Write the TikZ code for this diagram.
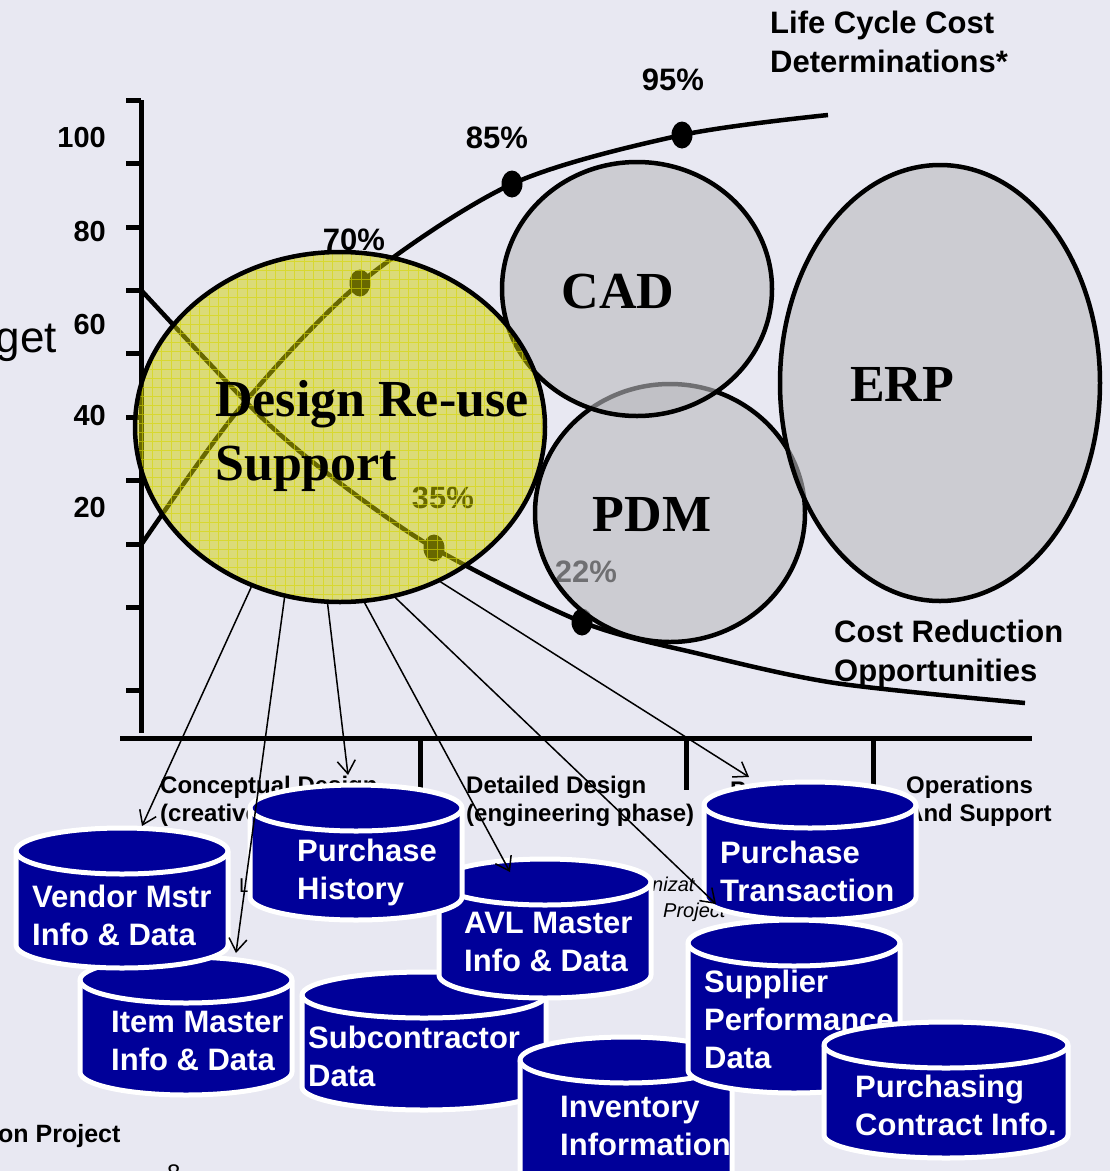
\documentclass[tikz,border=0pt]{standalone}
\usepackage{fontspec}
\setmainfont{Liberation Sans}
\newfontfamily\timesf{Liberation Serif}
\usetikzlibrary{shapes.geometric, arrows.meta}
\definecolor{bgc}{RGB}{232,232,242}
\definecolor{dbblue}{RGB}{0,0,153}
\definecolor{yelc}{RGB}{208,208,0}
\definecolor{grayc}{RGB}{186,186,190}
\definecolor{gridc}{RGB}{214,214,0}
\newcommand\dbcyl[8]{%
  \path[dbfill] (#2-#5,#3+23) -- (#2-#5,#4-23)
     arc[start angle=180,end angle=360,x radius=#5pt,y radius=23pt]
     -- (#2+#5,#3+23)
     arc[start angle=0,end angle=180,x radius=#5pt,y radius=23pt] -- cycle;
  \node[dbtext] (#1) at (#6,#7) {#8};
  \draw[dbline] (#2-#5,#3+23) arc[start angle=180,end angle=360,x radius=#5pt,y radius=23pt];
}
\tikzset{
  axisln/.style={line width=5pt},
  crv/.style={line width=4.5pt},
  dotn/.style={ellipse, fill=black, minimum width=21pt, minimum height=27pt, inner sep=0pt},
  numlbl/.style={font=\fontsize{29}{34}\selectfont\bfseries, inner sep=0pt, anchor=east},
  pct/.style={font=\fontsize{31}{36}\selectfont\bfseries, inner sep=0pt},
  bigsans/.style={font=\fontsize{31}{38.5}\selectfont\bfseries, inner sep=0pt, align=left, anchor=north west},
  serifl/.style={font=\timesf\fontsize{52}{64}\selectfont\bfseries, inner sep=0pt},
  grayell/.style={ellipse, draw=black, line width=4.5pt, fill=grayc, fill opacity=0.6, inner sep=0pt},
  phase/.style={font=\fontsize{24}{28}\selectfont\bfseries, inner sep=0pt, align=left, anchor=north west},
  dbtext/.style={font=\fontsize{31}{38}\selectfont\bfseries, text=white, inner sep=0pt, align=left, anchor=north west},
  dbfill/.style={fill=dbblue, draw=white, line width=5pt, line join=round},
  dbline/.style={draw=white, line width=5pt},
  conn/.style={line width=1.5pt, -{Straight Barb[length=13pt,width=18pt]}},
  fragit/.style={font=\fontsize{20}{24}\selectfont\itshape, inner sep=0pt, anchor=base west},
  fragup/.style={font=\fontsize{20}{24}\selectfont, inner sep=0pt, anchor=base west},
}
\begin{document}
\begin{tikzpicture}[x=1pt, y=-1pt]
\useasboundingbox (0,0) rectangle (1110,1171);
\clip (0,0) rectangle (1110,1171);
\fill[bgc] (0,0) rectangle (1110,1171);

% ---- y axis
\draw[axisln] (141,100) -- (141,733);
\foreach \yy in {100,163,227,290,353,417,480,544,607,690}
  \draw[axisln] (126,\yy) -- (141,\yy);
\node[numlbl] (t100) at (106,138) {100};
\node[numlbl] (t80) at (106,232) {80};
\node[numlbl] (t60) at (106,325) {60};
\node[numlbl] (t40) at (106,416) {40};
\node[numlbl] (t20) at (106,508) {20};
\node[anchor=base east, font=\fontsize{44}{50}\selectfont, inner sep=0pt] (getl) at (57,352) {get};

% ---- curves
\coordinate (lcs) at (141,545);
\coordinate (lca) at (240,408);
\coordinate (p70) at (360,283);
\coordinate (p85) at (512,184);
\coordinate (p95) at (682,135);
\coordinate (lce) at (828,115);
\draw[crv] plot[smooth, tension=0.5] coordinates {(lcs) (lca) (p70) (p85) (p95) (lce)};
\coordinate (crs) at (141,290);
\coordinate (crb) at (257,413);
\coordinate (crc) at (332,477);
\coordinate (p35) at (434,548);
\coordinate (p22) at (582,622);
\coordinate (crd) at (700,654);
\coordinate (cre) at (835,683);
\coordinate (crf) at (1025,703);
\draw[crv] plot[smooth, tension=0.5] coordinates {(crs) (crb) (crc) (p35) (p22) (crd) (cre) (crf)};
\node[dotn] (d70) at (p70) {};
\node[dotn] (d85) at (p85) {};
\node[dotn] (d95) at (p95) {};
\node[dotn] (d35) at (p35) {};
\node[dotn] (d22) at (p22) {};
\node[pct] (l95) at (673,80) {95\%};
\node[pct] (l85) at (497,138) {85\%};
\node[pct] (l70) at (354,240) {70\%};
\node[pct] (l35) at (443,498) {35\%};
\node[pct] (l22) at (586,572) {22\%};
\node[bigsans] (lcc) at (770,11) {Life Cycle Cost\\Determinations*};
\node[bigsans] (crl) at (834,620) {Cost Reduction\\Opportunities};

% ---- system ellipses
\node[grayell, minimum width=270pt, minimum height=258pt] (pdm) at (670,513) {};
\node[grayell, minimum width=270pt, minimum height=254pt] (cad) at (637,289) {};
\node[grayell, minimum width=320pt, minimum height=436pt] (erp) at (940,383) {};

\fill[yelc, fill opacity=0.5] (340,427) ellipse [x radius=205pt, y radius=175pt];
\begin{scope}
  \clip (340,427) ellipse [x radius=205pt, y radius=175pt];
  \draw[gridc, line width=0.8pt, opacity=0.6, xstep=9.5pt, ystep=9pt] (130,610) grid (560,245);
\end{scope}
\node[ellipse, draw=black, line width=4.5pt, minimum width=410pt, minimum height=350pt, inner sep=0pt] (design) at (340,427) {};

\node[serifl] (cadl) at (618,292) {CAD};
\node[serifl] (erpl) at (902,384) {ERP};
\node[serifl] (pdml) at (652,515) {PDM};
\node[serifl, align=left, anchor=north west] (desl) at (215,380) {Design Re-use\\Support};

% ---- x axis
\draw[axisln] (120,738) -- (1032,738);
\foreach \xx in {420,686,873}
  \draw[axisln] (\xx,738) -- (\xx,790);
\node[phase] (ph1) at (160,776) {Conceptual Design\\(creative phase)};
\node[phase] (ph2) at (466,776) {Detailed Design\\(engineering phase)};
\node[phase] (ph3) at (730,781) {Production};
\node[phase] (ph4) at (906,776) {Operations\\And Support};

% ---- hidden fragments
\node[fragup] (frl) at (239,892) {L};
\node[fragit] (frn) at (652,891) {nizat};
\node[fragit] (frp) at (663,917) {Project};

% ---- databases
\dbcyl{item}{186}{957}{1095}{106}{111}{1011}{Item Master\\Info \& Data}
\dbcyl{vendor}{122}{828}{968}{106}{32}{885}{Vendor Mstr\\Info \& Data}
\dbcyl{subc}{424}{972}{1110}{122}{308}{1026}{Subcontractor\\Data}
\dbcyl{avl}{545}{859}{998}{106}{464}{912}{AVL Master\\Info \& Data}
\dbcyl{phist}{356}{785}{920}{106}{297}{839}{Purchase\\History}
\dbcyl{ptrans}{810}{782}{920}{106}{720}{841}{Purchase\\Transaction}
\dbcyl{inv}{626}{1037}{1195}{106}{560}{1096}{Inventory\\Information}
\dbcyl{supp}{794}{920}{1093}{106}{704}{970}{Supplier\\Performance\\Data}
\dbcyl{pcon}{946}{1022}{1158}{122}{855}{1075}{Purchasing\\Contract Info.}

% ---- connectors
\coordinate (tv) at (142,826);
\coordinate (ti) at (236,953);
\coordinate (tph) at (348,775);
\coordinate (tavl) at (510,872);
\coordinate (tsp) at (716,904);
\coordinate (tpt) at (749,777);
\draw[conn] (design.241) -- (tv);
\draw[conn] (design.252) -- (ti);
\draw[conn] (design.266) -- (tph);
\draw[conn] (design.278) -- (tavl);
\draw[conn] (design.288) -- (tsp);
\draw[conn] (design.303) -- (tpt);

% ---- footer fragments
\node[anchor=base west, font=\fontsize{25}{30}\selectfont\bfseries, inner sep=0pt] (onp) at (-2,1142) {on Project};
\node[anchor=base west, font=\fontsize{24}{28}\selectfont, inner sep=0pt] (pgn) at (167,1181) {8};
\end{tikzpicture}
\end{document}
